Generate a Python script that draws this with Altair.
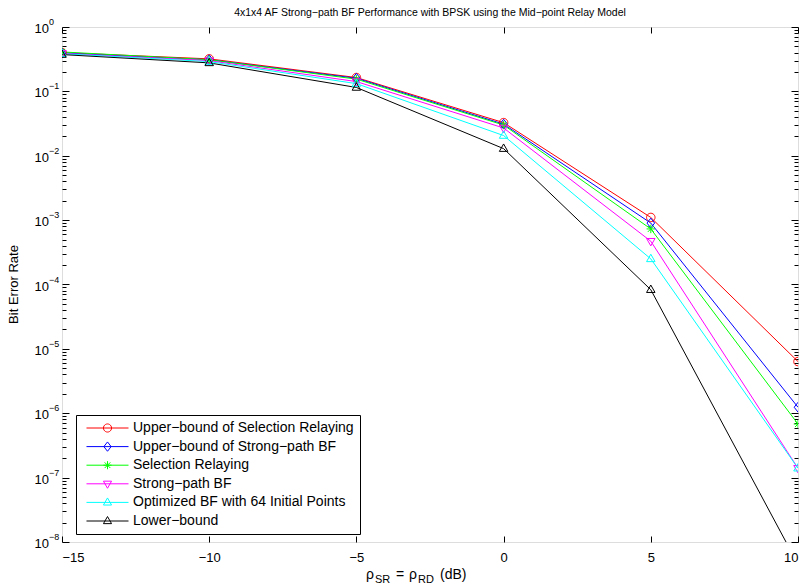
import math
import altair as alt
import pandas as pd

# ---------------------------------------------------------------- data
snr_db = [-15, -10, -5, 0, 5, 10]

ub_selection = [0.40, 0.32, 0.164, 0.0327, 1.10e-3, 6.35e-6]
ub_strong_path = [0.395, 0.31, 0.160, 0.031, 9.0e-4, 1.24e-6]
selection = [0.41, 0.31, 0.155, 0.030, 7.3e-4, 6.8e-7]
strong_path = [0.39, 0.30, 0.142, 0.027, 4.7e-4, 1.4e-7]
optimized = [0.385, 0.29, 0.132, 0.0206, 2.5e-4, 1.4e-7]
lower_bound = [0.373, 0.277, 0.115, 0.0129, 8.3e-5, 4.5e-9]

series_names = [
    "Upper\u2212bound of Selection Relaying",
    "Upper\u2212bound of Strong\u2212path BF",
    "Selection Relaying",
    "Strong\u2212path BF",
    "Optimized BF with 64 Initial Points",
    "Lower\u2212bound",
]
series_values = [ub_selection, ub_strong_path, selection, strong_path, optimized, lower_bound]
series_colors = ["#ff0000", "#0000ff", "#00ff00", "#ff00ff", "#00ffff", "#000000"]

x_ticks = [-15, -10, -5, 0, 5, 10]
y_major = [1e-8, 1e-7, 1e-6, 1e-5, 1e-4, 1e-3, 1e-2, 1e-1, 1.0]
y_exponents = ["\u22128", "\u22127", "\u22126", "\u22125", "\u22124", "\u22123", "\u22122", "\u22121", "0"]
y_minor = [k * 10.0 ** e for e in range(-8, 0) for k in range(2, 10)]

rows = []
for name, vals in zip(series_names, series_values):
    for x, v in zip(snr_db, vals):
        rows.append({"snr": x, "ber": v, "series": name})
df = pd.DataFrame(rows)
ticks_df = pd.DataFrame({"v": y_major, "e": y_exponents})

# ---------------------------------------------------------------- styling
FONT = "Liberation Sans"
W, H = 736, 515


def fmt(pts):
    return "M" + "L".join(f"{x:.3f},{y:.3f}" for x, y in pts) + "Z"


def circle_pts(r):
    return [(r * math.cos(2 * math.pi * i / 24), r * math.sin(2 * math.pi * i / 24)) for i in range(24)]


def marker_path(kind, s):
    if kind == "circle":
        return fmt(circle_pts(s))
    if kind == "diamond":
        return fmt([(0, -1.15 * s), (0.9 * s, 0), (0, 1.15 * s), (-0.9 * s, 0)])
    if kind == "star":
        d = 0.7 * s
        return (f"M0,{-s}L0,{s}M{-s},0L{s},0"
                f"M{-d},{-d}L{d},{d}M{-d},{d}L{d},{-d}")
    if kind == "tri_down":
        return fmt([(-s, -0.65 * s), (s, -0.65 * s), (0, 1.1 * s)])
    return fmt([(-s, 0.65 * s), (s, 0.65 * s), (0, -1.1 * s)])


marker_kinds = ["circle", "diamond", "star", "tri_down", "tri_up", "tri_up"]
plot_markers = [marker_path(k, 1.0) for k in marker_kinds]
# legend glyph: a short line segment through the marker (symbol unit = 4.5 px)
legend_markers = ["M-4.67,0L4.67,0" + marker_path(k, 0.9) for k in marker_kinds]

x_scale = alt.Scale(domain=[-15, 10], nice=False, zero=False)
y_scale = alt.Scale(type="log", domain=[1e-8, 1], nice=False)


def tick_axis(orient, values, size, offset, labels=False, **kw):
    return alt.Axis(orient=orient, values=values, tickSize=size, offset=offset, labels=labels,
                    domain=False, grid=False, title=None, tickColor="black", tickWidth=1, **kw)


color_plain = alt.Color("series:N", scale=alt.Scale(domain=series_names, range=series_colors), legend=None)

base = alt.Chart(df)

lines = base.mark_line(strokeWidth=1, clip=True).encode(
    x=alt.X("snr:Q", scale=x_scale,
            axis=tick_axis("bottom", x_ticks, 0, 0, labels=True, labelFont=FONT, labelFontSize=13,
                           labelColor="black", labelPadding=9, format="d")),
    y=alt.Y("ber:Q", scale=y_scale, axis=tick_axis("right", y_major, 7, -W)),
    color=color_plain,
)

points = base.mark_point(filled=False, size=72, strokeWidth=1, opacity=1, clip=True).encode(
    x=alt.X("snr:Q", scale=x_scale, axis=tick_axis("top", x_ticks, 6, -H)),
    y=alt.Y("ber:Q", scale=y_scale, axis=tick_axis("right", y_minor, 4, -W)),
    color=color_plain,
    shape=alt.Shape("series:N", scale=alt.Scale(domain=series_names, range=plot_markers), legend=None),
)

legend_spec = alt.Legend(
    title=None, orient="none", legendX=14, legendY=388, direction="vertical",
    strokeColor="black", fillColor="white", padding=6, cornerRadius=0,
    labelFont=FONT, labelFontSize=14, labelColor="black", labelLimit=0, labelOffset=18.5,
    symbolSize=81, symbolStrokeWidth=1, symbolOffset=18.5, rowPadding=4.6,
)

legend_layer = base.mark_point(filled=False, strokeWidth=1, opacity=1).transform_filter("false").encode(
    x=alt.X("snr:Q", scale=x_scale, axis=tick_axis("bottom", x_ticks, 6, -H)),
    y=alt.Y("ber:Q", scale=y_scale, axis=tick_axis("left", y_major, 7, -W)),
    color=alt.Color("series:N", scale=alt.Scale(domain=series_names, range=series_colors), legend=legend_spec),
    shape=alt.Shape("series:N", scale=alt.Scale(domain=series_names, range=legend_markers), legend=legend_spec),
)

# y tick labels as 10 with a raised exponent
tick_base = alt.Chart(ticks_df)
tens = tick_base.mark_text(align="right", baseline="middle", font=FONT, fontSize=13, dy=2, color="black").encode(
    x=alt.value(-13),
    y=alt.Y("v:Q", scale=y_scale, axis=tick_axis("left", y_minor, 4, -W)),
    text=alt.value("10"),
)
exps = tick_base.mark_text(align="left", baseline="middle", font=FONT, fontSize=9, dy=-5, color="black").encode(
    x=alt.value(-13),
    y=alt.Y("v:Q", scale=y_scale, axis=None),
    text="e:N",
)

one = pd.DataFrame({"a": [0]})
y_title = alt.Chart(one).mark_text(angle=270, font=FONT, fontSize=13, color="black", baseline="middle").encode(
    x=alt.value(-48), y=alt.value(H / 2), text=alt.value("Bit Error Rate"))

# x title: rho_SR = rho_RD (dB), with subscripts
x_title_parts = [
    ("\u03c1", 304, 14, 0),
    ("SR", 313, 11, 4),
    ("=", 334, 14, 0),
    ("\u03c1", 347, 14, 0),
    ("RD", 356, 11, 4),
    ("(dB)", 378, 14, 0),
]
x_title_layers = [
    alt.Chart(one).mark_text(align="left", baseline="alphabetic", font=FONT, fontSize=fs, dy=dy, color="black").encode(
        x=alt.value(px), y=alt.value(H + 37), text=alt.value(t))
    for t, px, fs, dy in x_title_parts
]

chart = alt.layer(lines, points, legend_layer, tens, exps, y_title, *x_title_layers).resolve_scale(
    color="independent", shape="independent"
).resolve_legend(
    color="independent", shape="independent"
).resolve_axis(
    x="independent", y="independent"
).properties(
    width=W, height=H,
    title=alt.Title("4x1x4 AF Strong\u2212path BF Performance with BPSK using the Mid\u2212point Relay Model",
                    font=FONT, fontSize=10.5, fontWeight="normal", color="black", anchor="middle", offset=0),
    autosize=alt.AutoSizeParams(type="none"),
    padding={"left": 62, "top": 27, "right": 6, "bottom": 44},
).configure_view(stroke="black", strokeWidth=1).configure(background="white")

chart.save("out.html", embed_options={"renderer": "svg", "actions": False})
